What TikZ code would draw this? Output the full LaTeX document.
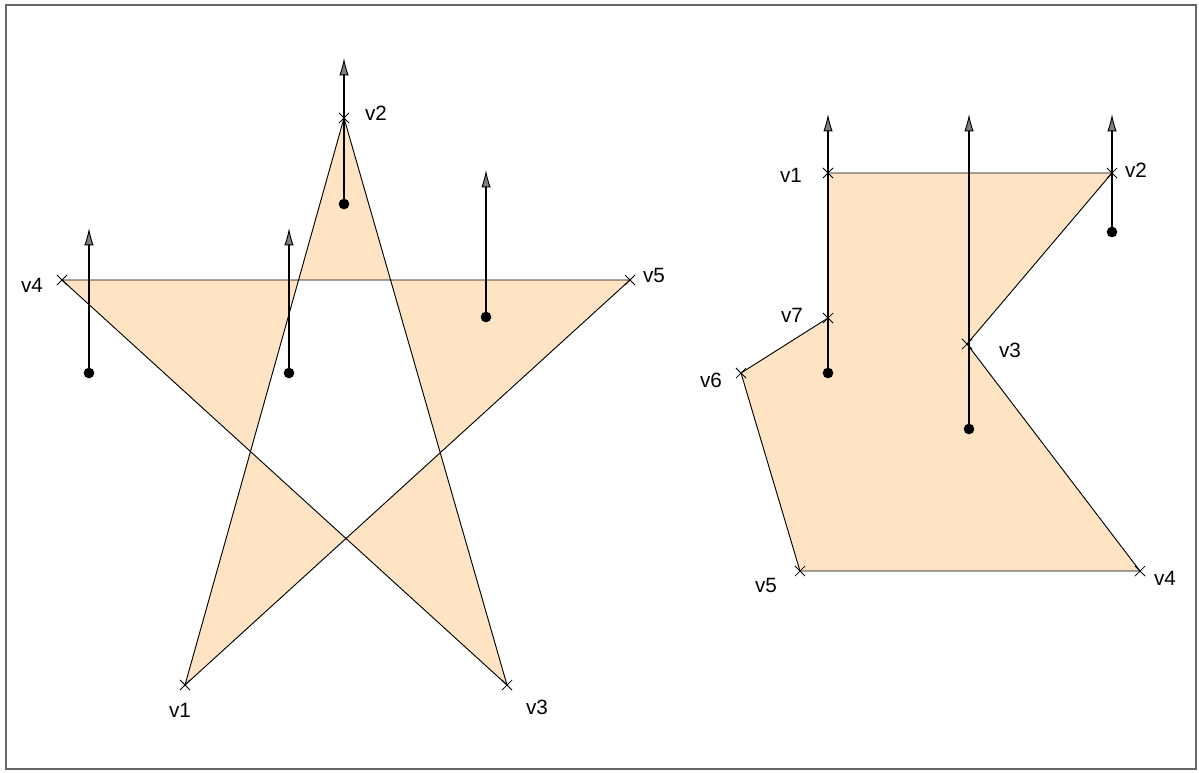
\documentclass[tikz,border=0pt]{standalone}
\usepackage{fontspec}
\setmainfont{Liberation Sans}
\usetikzlibrary{arrows.meta, shapes.misc}

\definecolor{polyfill}{HTML}{FFE4C4}

\begin{document}
\begin{tikzpicture}[
  x=0.75pt, y=-0.75pt,
  vx/.style={draw, cross out, inner sep=0pt, minimum size=7pt, line width=0.55pt},
  lbl/.style={font=\fontsize{15.5}{18}\selectfont, inner sep=0pt},
  dot/.style={circle, fill, inner sep=0pt, minimum size=8pt},
  vec/.style={line width=1.5pt, -{Latex[length=13pt, width=7pt, fill=gray, line width=0.7pt]}},
  poly/.style={draw, fill=polyfill, line width=0.7pt}
]
  \useasboundingbox (0,0) rectangle (1199,772);
  \draw[line width=0.8pt, gray!80!black] (6,5) rectangle (1196,769);

  % star
  \coordinate (s1) at (185,685);
  \coordinate (s2) at (344,118);
  \coordinate (s3) at (507,685);
  \coordinate (s4) at (62,280);
  \coordinate (s5) at (630,280);
  \path[poly, even odd rule] (s1) -- (s2) -- (s3) -- (s4) -- (s5) -- cycle;
  \node[lbl] (l1) at (180,710) {v1};
  \node[lbl] (l2) at (376,113) {v2};
  \node[lbl] (l3) at (537,707) {v3};
  \node[lbl] (l4) at (32,285) {v4};
  \node[lbl] (l5) at (654,275) {v5};

  % polygon
  \coordinate (p1) at (828,173);
  \coordinate (p2) at (1112,173);
  \coordinate (p3) at (967,344);
  \coordinate (p4) at (1140,571);
  \coordinate (p5) at (800,571);
  \coordinate (p6) at (741,373);
  \coordinate (p7) at (828,318);
  \path[poly] (p1) -- (p2) -- (p3) -- (p4) -- (p5) -- (p6) -- (p7) -- cycle;
  \foreach \n in {s1,s2,s3,s4,s5,p1,p2,p3,p4,p5,p6,p7} {\node[vx] at (\n) {};}
  \node[lbl] (m1) at (791,175) {v1};
  \node[lbl] (m2) at (1136,170) {v2};
  \node[lbl] (m3) at (1010,350) {v3};
  \node[lbl] (m4) at (1165,578) {v4};
  \node[lbl] (m5) at (766,585) {v5};
  \node[lbl] (m6) at (711,380) {v6};
  \node[lbl] (m7) at (792,315) {v7};

  % rays
  \node[dot] (r1) at (89,373) {};
  \node[dot] (r2) at (289,373) {};
  \node[dot] (r3) at (344,204) {};
  \node[dot] (r4) at (486,317) {};
  \node[dot] (r5) at (828,373) {};
  \node[dot] (r6) at (969,429) {};
  \node[dot] (r7) at (1112,232) {};
  \coordinate (t1) at (89,228);
  \coordinate (t2) at (289,228);
  \coordinate (t3) at (344,58);
  \coordinate (t4) at (486,170);
  \coordinate (t5) at (828,114);
  \coordinate (t6) at (969,114);
  \coordinate (t7) at (1112,114);
  \foreach \i in {1,...,7} {\draw[vec] (r\i.center) -- (t\i);}
\end{tikzpicture}
\end{document}
